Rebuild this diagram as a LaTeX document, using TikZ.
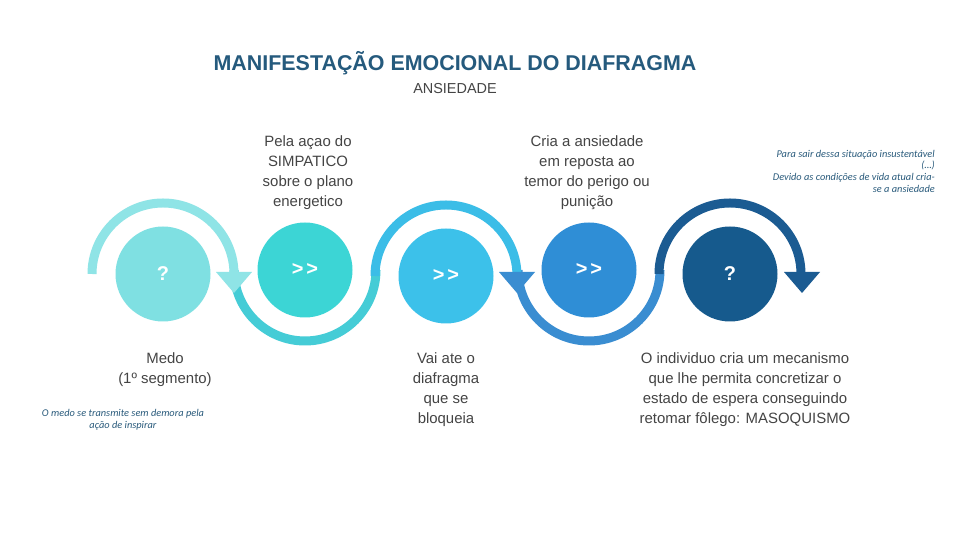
\documentclass[tikz,border=0pt]{standalone}
\usepackage{fontspec}
\setmainfont{Liberation Sans}
\newfontfamily\notefont{Carlito}
\definecolor{cA}{HTML}{7FE0E2}
\definecolor{aA}{HTML}{8FE4E6}
\definecolor{cB}{HTML}{3CD5D5}
\definecolor{aB}{HTML}{45CCD6}
\definecolor{cC}{HTML}{3CC1EA}
\definecolor{aC}{HTML}{3BBDE7}
\definecolor{cD}{HTML}{2F8ED6}
\definecolor{aD}{HTML}{3A8DD1}
\definecolor{cE}{HTML}{165A8D}
\definecolor{aE}{HTML}{1B5B92}
\definecolor{titlecol}{HTML}{255A7D}
\definecolor{txtgray}{HTML}{444444}
\definecolor{notecol}{HTML}{2A5B7C}
\tikzset{
  disc/.style={circle, minimum size=95bp, inner sep=0pt, font=\fontsize{20}{22}\selectfont\bfseries, text=white},
  ring/.style={line width=9bp},
  body/.style={font=\fontsize{15}{20}\selectfont, text=txtgray, align=center, inner sep=0pt},
  note/.style={font=\notefont\itshape\fontsize{10.4}{11.7}\selectfont, text=notecol, inner sep=0pt}
}
\begin{document}
\begin{tikzpicture}[x=1bp,y=1bp]
\useasboundingbox (0,0) rectangle (960,540);
\fill[white] (0,0) rectangle (960,540);

% circles
\node[disc, fill=cA] (n1) at (163,266) {?};
\node[disc, fill=cB] (n2) at (305,270) {>\hspace{3bp}>};
\node[disc, fill=cC] (n3) at (446,264) {>\hspace{3bp}>};
\node[disc, fill=cD] (n4) at (589,270) {>\hspace{3bp}>};
\node[disc, fill=cE] (n5) at (730,266) {?};

% lower arcs
\draw[ring, draw=aB] ([xshift=-71bp]n2.center) arc[start angle=180, end angle=360, radius=71bp];
\draw[ring, draw=aD] ([xshift=-71bp]n4.center) arc[start angle=180, end angle=360, radius=71bp];
% upper arcs
\draw[ring, draw=aA] ([xshift=-71bp]n1.center) arc[start angle=180, end angle=0, radius=71bp];
\draw[ring, draw=aC] ([xshift=-71bp]n3.center) arc[start angle=180, end angle=0, radius=71bp];
\draw[ring, draw=aE] ([xshift=-71bp]n5.center) arc[start angle=180, end angle=0, radius=71bp];

% arrow heads
\fill[aA] ([xshift=71bp,yshift=2bp]n1.center) ++(-18,0) -- ++(36,0) -- ++(-18,-21) -- cycle;
\fill[aD] ([xshift=71bp,yshift=4bp]n3.center) ++(-18,0) -- ++(36,0) -- ++(-18,-21) -- cycle;
\fill[aE] ([xshift=72bp,yshift=2bp]n5.center) ++(-18,0) -- ++(36,0) -- ++(-18,-21) -- cycle;

% title
\node[font=\bfseries\fontsize{21.5}{24}\selectfont, text=titlecol] (title) at (455,477) {MANIFESTAÇÃO EMOCIONAL DO DIAFRAGMA};
\node[font=\fontsize{14.5}{16}\selectfont, text=txtgray] (sub) at (455,451) {ANSIEDADE};

% body texts
\node[body] (t1) at (308,367) {Pela açao do\\SIMPATICO\\sobre o plano\\energetico};
\node[body] (t2) at (587,367) {Cria a ansiedade\\em reposta ao\\temor do perigo ou\\punição};
\node[body] (b1) at (165,170) {Medo\\(1º segmento)};
\node[body] (b2) at (446,150) {Vai ate o\\diafragma\\que se\\bloqueia};
\node[body] (b3) at (745,150) {O individuo cria um mecanismo\\que lhe permita concretizar o\\estado de espera conseguindo\\retomar fôlego: MASOQUISMO};

% notes
\node[note, align=right, anchor=east] (nt1) at (935,369) {Para sair dessa situação insustentável\\(…)\\Devido as condições de vida atual cria-\\se a ansiedade};
\node[note, align=center] (nt2) at (123,120) {O medo se transmite sem demora pela\\ação de inspirar};
\end{tikzpicture}
\end{document}
